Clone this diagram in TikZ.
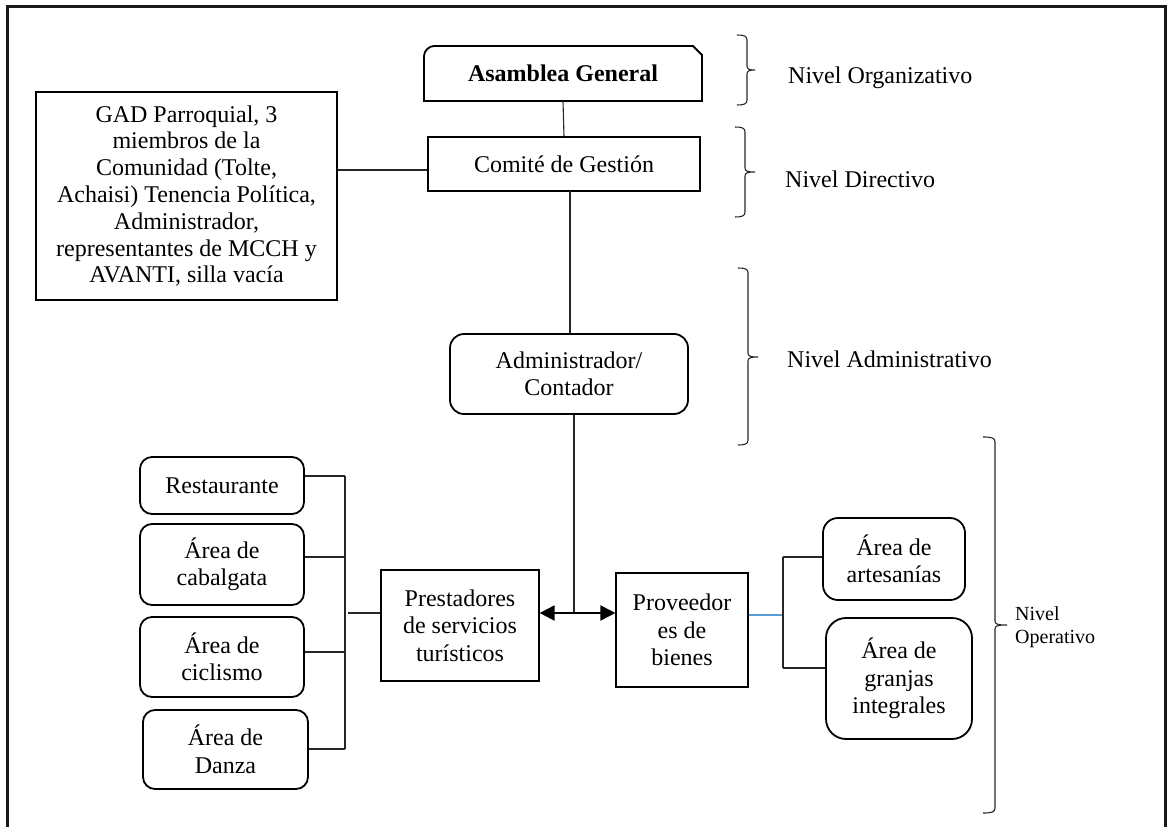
\documentclass[tikz,border=0pt]{standalone}
\usepackage{fontspec}
\setmainfont{Liberation Serif}
\usetikzlibrary{arrows.meta}
\definecolor{lblue}{RGB}{91,155,213}
\newcommand{\rbr}[6]{%
  \draw[bracel] (#1,#4) .. controls ({#2-3},#4) and (#2,{#4+1}) .. (#2,{#4+5})
    -- (#2,{#5-4}) .. controls (#2,{#5-1}) and ({#2+2},#5) .. (#3,#5)
    .. controls ({#2+2},#5) and (#2,{#5+1}) .. (#2,{#5+4})
    -- (#2,{#6-5}) .. controls (#2,{#6-1}) and ({#2-3},#6) .. (#1,#6);}
\begin{document}
\begin{tikzpicture}[x=1pt,y=-1pt,
  every node/.style={font=\fontsize{24}{27.5}\selectfont, inner sep=0pt, align=center},
  sqbox/.style={draw, line width=1.2pt},
  rbox/.style={draw, line width=1.8pt, rounded corners=12pt},
  conn/.style={line width=1.1pt, draw=black!85},
  bracel/.style={line width=1.1pt, draw=black!85},
  lvl/.style={anchor=base west}]
\useasboundingbox (0,0) rectangle (1168,827);
% outer frame
\draw[line width=3pt, draw=black!90] (7,827) -- (7,6) -- (1165,6) -- (1165,827);

% Asamblea General (rounded top-left, snipped top-right)
\draw[line width=1.8pt] (424,101) -- (424,56) .. controls (424,50.5) and (429.5,46) .. (434,46)
  -- (693,46) -- (702,55) -- (702,101) -- cycle;
\node[minimum width=278pt, minimum height=55pt] (ag) at (563,73.5) {\textbf{Asamblea General}};

\node[sqbox, minimum width=272pt, minimum height=54pt] (cg) at (564,164) {Comité de Gestión};
\node[sqbox, minimum width=301pt, minimum height=208pt, font=\fontsize{24}{26.8}\selectfont] (gad) at (186.5,196)
  {GAD Parroquial, 3\\miembros de la\\Comunidad (Tolte,\\Achaisi) Tenencia Política,\\Administrador,\\representantes de MCCH y\\AVANTI, silla vacía};
\node[rbox, rounded corners=14pt, minimum width=238pt, minimum height=80pt] (adm) at (569,374) {Administrador/\\Contador};
\node[sqbox, minimum width=158pt, minimum height=111pt] (prs) at (460,625.5) {Prestadores\\de servicios\\turísticos};
\node[sqbox, minimum width=132pt, minimum height=114pt] (prov) at (682,630) {Proveedor\\es de\\bienes};
\node[rbox, rounded corners=15pt, minimum width=142pt, minimum height=82pt] (art) at (894,559) {Área de\\artesanías};
\node[rbox, rounded corners=20pt, minimum width=146pt, minimum height=121pt] (gra) at (899,678.5) {Área de\\granjas\\integrales};
\node[rbox, minimum width=164pt, minimum height=57pt] (rest) at (222,485.5) {Restaurante};
\node[rbox, minimum width=164pt, minimum height=81pt] (cab) at (222,564.5) {Área de\\cabalgata};
\node[rbox, minimum width=164pt, minimum height=80pt] (cic) at (222,657) {Área de\\ciclismo};
\node[rbox, minimum width=165pt, minimum height=79pt] (dan) at (225.5,749.5) {Área de\\Danza};

% connectors
\coordinate (gl) at (0,170);
\draw[conn] (ag.south) -- (cg.north);
\draw[conn] (gad.east |- gl) -- (cg.west |- gl);
\coordinate (a1) at (570,191);
\draw[conn] (a1) -- (a1 |- adm.north);
\coordinate (junc) at (574,613);
\draw[conn] (junc |- adm.south) -- (junc);
\draw[line width=2pt, {Triangle[length=15pt,width=15pt]}-{Triangle[length=15pt,width=15pt]}] (prs.east |- junc) -- (prov.west |- junc);

% left bracket
\coordinate (bl1) at (345,476);
\coordinate (bl2) at (345,557);
\coordinate (bl3) at (345,652);
\coordinate (bl4) at (345,749);
\coordinate (bl0) at (345,613);
\draw[conn] (bl1) -- (bl4);
\draw[conn] (rest.east |- bl1) -- (bl1);
\draw[conn] (cab.east |- bl2) -- (bl2);
\draw[conn] (cic.east |- bl3) -- (bl3);
\draw[conn] (dan.east |- bl4) -- (bl4);
\draw[conn] ([xshift=3pt]bl0) -- (prs.west |- bl0);

% right bracket
\coordinate (br0) at (783,615);
\coordinate (br1) at (783,557);
\coordinate (br2) at (783,668);
\draw[line width=1.2pt, draw=lblue] (prov.east |- br0) -- (br0);
\draw[conn] (br1) -- (br2);
\draw[conn] (br1) -- (art.west |- br1);
\draw[conn] (br2) -- (gra.west |- br2);

% braces
\rbr{737}{747}{755}{35}{70}{105}
\rbr{735}{745}{755}{127}{172}{217}
\rbr{738}{748}{758}{268}{357}{445}
\rbr{983}{995}{1007}{437}{625}{813}

\node[lvl] (lo) at (788,83) {Nivel Organizativo};
\node[lvl] (ld) at (785,187) {Nivel Directivo};
\node[lvl] (la) at (787,367) {Nivel Administrativo};
\node[anchor=west, align=left, font=\fontsize{20}{23}\selectfont] (lop) at (1015,627) {Nivel\\Operativo};
\end{tikzpicture}
\end{document}
